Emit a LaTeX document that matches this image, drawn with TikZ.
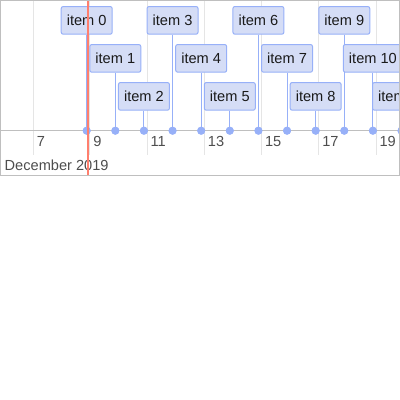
\documentclass[tikz,border=0pt]{standalone}
\usepackage{fontspec}
\setmainfont{Liberation Sans}
\definecolor{itemfill}{HTML}{D5DDF6}
\definecolor{itemline}{HTML}{97B0F8}
\definecolor{axisgray}{HTML}{BFBFBF}
\definecolor{gridgray}{HTML}{E5E5E5}
\definecolor{labelgray}{HTML}{4D4D4D}
\definecolor{nowred}{HTML}{FF7F6E}
\definecolor{textdark}{HTML}{1A1A1A}
\tikzset{
  itembox/.style={draw=itemline, fill=itemfill, line width=1pt, rounded corners=2pt,
    minimum height=27.7pt, inner xsep=5.6pt, inner ysep=0pt, text=textdark,
    font=\fontsize{14.6pt}{16pt}\selectfont, anchor=north},
  itemdot/.style={circle, fill=itemline, inner sep=0pt, minimum size=8pt},
  connector/.style={draw=itemline, line width=1pt},
  gridline/.style={draw=gridgray, line width=1pt},
  axisline/.style={draw=axisgray, line width=1pt},
  ticklabel/.style={text=labelgray, font=\fontsize{14.6pt}{16pt}\selectfont, anchor=base west, inner sep=0pt},
  nowline/.style={draw=nowred, line width=2pt}
}
\begin{document}
\begin{tikzpicture}[x=1pt,y=-1pt]
\useasboundingbox (0,0) rectangle (400,400);
\begin{scope}
\clip (0,0) rectangle (400,175.5);
% grid lines and minor labels
\foreach \d/\gx in {7/33.3, 9/89.8, 11/147.2, 13/204.4, 15/261.6, 17/318.8, 19/376.0}{
  \coordinate (gt\d) at (\gx,0);
  \coordinate (gb\d) at (\gx,155);
  \draw[gridline] (gt\d) -- (gb\d);
  \node[ticklabel] (lab\d) at (\gx+3.3,146.7) {\d};
}
\node[ticklabel] (major) at (4.5,170.2) {December 2019};
% axis
\coordinate (axl) at (0,130.7);
\coordinate (axr) at (400,130.7);
\draw[axisline] (axl) -- (axr);
% items
\foreach \i in {0,...,11}{
  \pgfmathsetmacro{\ix}{86.7+28.62*\i}
  \pgfmathtruncatemacro{\row}{mod(\i,3)}
  \pgfmathsetmacro{\iy}{6+38*\row}
  \node[itembox] (item\i) at (\ix,\iy) {item \i};
  \node[itemdot] (dot\i) at (\ix,130.7) {};
  \draw[connector] (item\i.south) -- (dot\i.center);
  \node[itemdot] at (dot\i) {};
}
% current time
\coordinate (nowt) at (87.6,0);
\coordinate (nowb) at (87.6,175.5);
\draw[nowline] (nowt) -- (nowb);
\end{scope}
% frame
\draw[axisgray, line width=1pt] (0.5,0.5) rectangle (399.5,175.5);
\end{tikzpicture}
\end{document}
